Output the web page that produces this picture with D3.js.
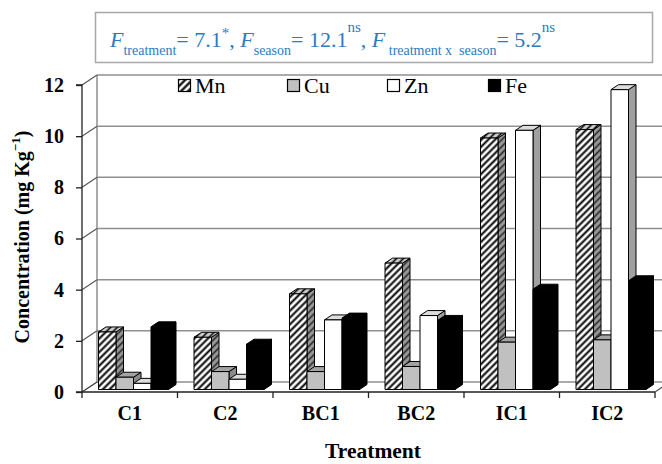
<!DOCTYPE html>
<html>
<head>
<meta charset="utf-8">
<script src="https://cdn.jsdelivr.net/npm/d3@7"></script>
<style>
  html, body { margin: 0; padding: 0; background: #fff; }
  svg { display: block; }
  text { font-family: "Liberation Serif", "Times New Roman", serif; }
</style>
</head>
<body>
<svg id="chart" width="662" height="464"></svg>
<script>
// ---- data ----
const categories = ["C1", "C2", "BC1", "BC2", "IC1", "IC2"];
const seriesNames = ["Mn", "Cu", "Zn", "Fe"];
const Mn = [2.25, 2.04, 3.74, 4.94, 9.83, 10.16];
const Cu = [0.48, 0.70, 0.70, 0.90, 1.85, 1.94];
const Zn = [0.24, 0.40, 2.72, 2.89, 10.13, 11.72];
const Fe = [2.45, 1.77, 2.79, 2.70, 3.92, 4.25];
const yTicks = [0, 2, 4, 6, 8, 10, 12];
const xTitle = "Treatment";

const seriesValues = { Mn, Cu, Zn, Fe };

// ---- layout ----
const svg = d3.select("#chart");
const X0 = 82, X1 = 655, Y0 = 392, Y1 = 85;
const DX = 15, DY = -10;          // depth projection
const Z1 = 0.25, Z2 = 0.75;       // bar depth range

const x = d3.scaleBand().domain(categories).range([X0, X1]).padding(0);
const gap = 12.75;
const xs = d3.scaleBand().domain(seriesNames).range([gap, x.bandwidth() - gap]).padding(0);
const y = d3.scaleLinear().domain([0, 12]).range([Y0, Y1]);

const P = (px, v, z) => [px + DX * z, y(v) + DY * z];
const poly = pts => "M" + pts.map(p => p[0].toFixed(2) + "," + p[1].toFixed(2)).join("L") + "Z";

// ---- patterns ----
const defs = svg.append("defs");
function hatch(id, bg, lineColor, w, sw) {
  const p = defs.append("pattern").attr("id", id)
    .attr("patternUnits", "userSpaceOnUse")
    .attr("width", w).attr("height", w)
    .attr("patternTransform", "rotate(45)");
  p.append("rect").attr("width", w).attr("height", w).attr("fill", bg);
  p.append("line").attr("x1", w / 2).attr("y1", 0).attr("x2", w / 2).attr("y2", w)
    .attr("stroke", lineColor).attr("stroke-width", sw);
}
hatch("hFront", "#ffffff", "#000", 4.8, 2);
hatch("hTop", "#d0d0d0", "#000", 4.8, 1.6);
hatch("hSide", "#9a9a9a", "#222", 4.8, 1.6);
hatch("hLegend", "#ffffff", "#000", 5, 2.2);

const styles = {
  Mn: { front: "url(#hFront)", top: "url(#hTop)", side: "url(#hSide)" },
  Cu: { front: "#c0c0c0", top: "#a3a3a3", side: "#8a8a8a" },
  Zn: { front: "#ffffff", top: "#dcdcdc", side: "#a0a0a0" },
  Fe: { front: "#000000", top: "#000000", side: "#000000" }
};

// ---- title box ----
svg.append("rect").attr("x", 95.5).attr("y", 12.5).attr("width", 557).attr("height", 50)
  .attr("fill", "#fff").attr("stroke", "#a8a8a8").attr("stroke-width", 1.5);

const blue = "#2a7bc4";
const t = svg.append("text").attr("x", 110).attr("y", 47).attr("fill", blue).attr("font-size", 22)
  .attr("xml:space", "preserve");
const parts = [
  { s: "F", it: true },
  { s: "treatment", sub: true },
  { s: "= 7.1" },
  { s: "*", sup: true, shift: -9 },
  { s: ", " },
  { s: "F", it: true },
  { s: "season", sub: true },
  { s: "= 12.1" },
  { s: "ns", sup: true, shift: -15 },
  { s: ", " },
  { s: "F", it: true },
  { s: " treatment x  season", sub: true },
  { s: "= 5.2" },
  { s: "ns", sup: true, shift: -15 }
];
let curShift = 0;
parts.forEach(pt => {
  const target = pt.sub ? 8 : pt.sup ? pt.shift : 0;
  const ts = t.append("tspan").attr("dy", target - curShift).text(pt.s);
  curShift = target;
  if (pt.it) ts.attr("font-style", "italic");
  if (pt.sub) ts.attr("font-size", 14);
  if (pt.sup) ts.attr("font-size", 15);
});

// ---- back wall gridlines ----
const grid = svg.append("g");
yTicks.forEach(v => {
  const a = P(X0, v, 1), b = P(X1 + 30, v, 1);
  grid.append("line").attr("x1", a[0]).attr("y1", a[1]).attr("x2", b[0]).attr("y2", b[1])
    .attr("stroke", "#8f8f8f").attr("stroke-width", 1.5);
});
// back wall left edge
{
  const a = P(X0, 0, 1), b = P(X0, 12, 1);
  grid.append("line").attr("x1", a[0]).attr("y1", a[1]).attr("x2", b[0]).attr("y2", b[1])
    .attr("stroke", "#8f8f8f").attr("stroke-width", 1.5);
}
// left wall diagonals
yTicks.forEach(v => {
  const a = P(X0, v, 0), b = P(X0, v, 1);
  grid.append("line").attr("x1", a[0]).attr("y1", a[1]).attr("x2", b[0]).attr("y2", b[1])
    .attr("stroke", v === 0 ? "#333" : "#555").attr("stroke-width", 1.2);
});
// floor right diagonal
{
  const a = P(X1, 0, 0), b = P(X1, 0, 1);
  grid.append("line").attr("x1", a[0]).attr("y1", a[1]).attr("x2", b[0]).attr("y2", b[1])
    .attr("stroke", "#555").attr("stroke-width", 1.2);
}

// ---- bars ----
const barsG = svg.append("g");
categories.forEach((c, i) => {
  seriesNames.forEach(s => {
    const v = seriesValues[s][i];
    const xl = x(c) + xs(s), xr = xl + xs.bandwidth();
    const st = styles[s];
    const g = barsG.append("g").attr("stroke", "#000").attr("stroke-width", 1).attr("stroke-linejoin", "round");
    g.append("path").attr("d", poly([P(xr, 0, Z1), P(xr, 0, Z2), P(xr, v, Z2), P(xr, v, Z1)])).attr("fill", st.side);
    g.append("path").attr("d", poly([P(xl, v, Z1), P(xr, v, Z1), P(xr, v, Z2), P(xl, v, Z2)])).attr("fill", st.top);
    g.append("path").attr("d", poly([P(xl, 0, Z1), P(xr, 0, Z1), P(xr, v, Z1), P(xl, v, Z1)])).attr("fill", st.front);
  });
});

// ---- axes ----
const yAxis = d3.axisLeft(y).tickValues(yTicks).tickSize(6).tickPadding(12).tickFormat(d3.format("d"));
const ya = svg.append("g").attr("transform", `translate(${X0},0)`).call(yAxis);
ya.select(".domain").attr("stroke", "#222").attr("stroke-width", 1.3).attr("d", `M-6,${Y1}H0V${Y0}H-6`);
ya.selectAll(".tick line").attr("stroke", "#222").attr("stroke-width", 1.3);
ya.selectAll(".tick text").attr("font-size", 20).attr("font-weight", "bold").attr("fill", "#000");

const xAxis = d3.axisBottom(x).tickSize(0).tickPadding(14);
const xa = svg.append("g").attr("transform", `translate(0,${Y0})`).call(xAxis);
xa.select(".domain").attr("stroke", "#222").attr("stroke-width", 1.3).attr("d", `M${X0},0H${X1}`);
xa.selectAll(".tick text").attr("font-size", 20).attr("font-weight", "bold").attr("fill", "#000");
// boundary ticks
const bounds = categories.map(c => x(c)).concat([X1]);
xa.selectAll(".btick").data(bounds).enter().append("line")
  .attr("x1", d => d).attr("x2", d => d).attr("y1", 0).attr("y2", 6)
  .attr("stroke", "#222").attr("stroke-width", 1.3);

// axis titles
svg.append("text").attr("x", 373).attr("y", 458).attr("text-anchor", "middle")
  .attr("font-size", 21.5).attr("font-weight", "bold").text(xTitle);

const yt = svg.append("text").attr("transform", "translate(29,237) rotate(-90)")
  .attr("text-anchor", "middle").attr("font-size", 20).attr("font-weight", "bold");
yt.append("tspan").text("Concentration (mg Kg");
yt.append("tspan").attr("font-size", 13).attr("dy", -9).text("\u22121");
yt.append("tspan").attr("dy", 9).text(")");

// ---- legend ----
const legendX = [178, 287, 387, 488];
const lg = svg.append("g");
seriesNames.forEach((s, i) => {
  lg.append("rect").attr("x", legendX[i] + 0.5).attr("y", 79.5).attr("width", 12).attr("height", 12)
    .attr("fill", s === "Mn" ? "url(#hLegend)" : styles[s].front).attr("stroke", "#000").attr("stroke-width", 1.2);
  lg.append("text").attr("x", legendX[i] + 17).attr("y", 93).attr("font-size", 22).text(s);
});
</script>
</body>
</html>
